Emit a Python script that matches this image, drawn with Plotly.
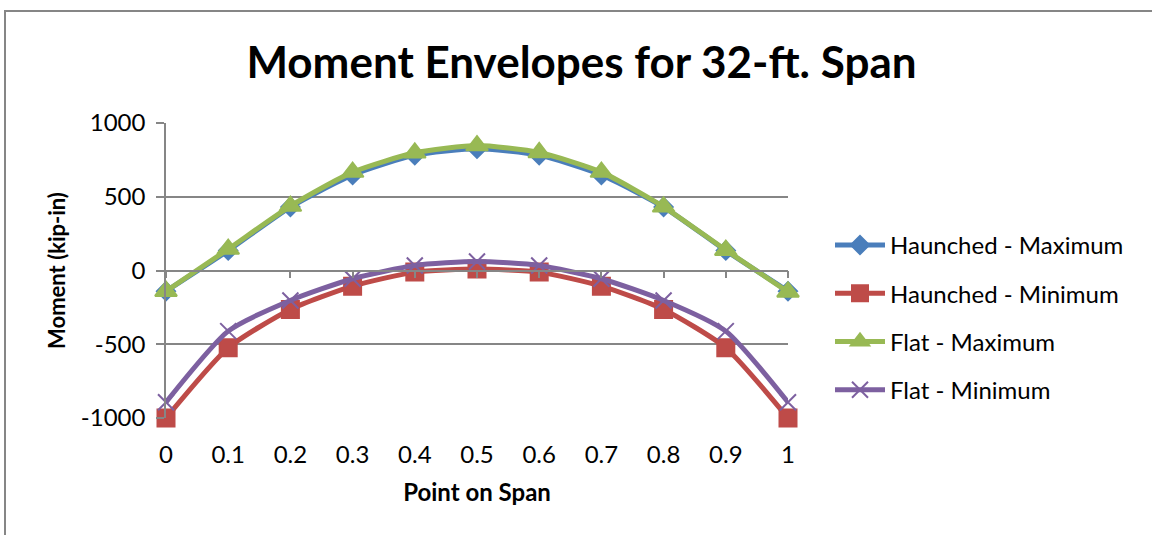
import plotly.graph_objects as go

points = ["0", "0.1", "0.2", "0.3", "0.4", "0.5", "0.6", "0.7", "0.8", "0.9", "1"]
haunched_max = [-140, 135, 430, 648, 782, 826, 782, 648, 430, 135, -140]
haunched_min = [-1000, -524, -264, -106, -11, 10, -11, -106, -264, -524, -1000]
flat_max = [-140, 145, 437, 667, 798, 847, 800, 667, 432, 138, -145]
flat_min = [-893, -411, -203, -56, 34, 61, 34, -56, -203, -411, -893]
y_ticks = [-1000, -500, 0, 500, 1000]
y_tick_labels = ["-1000", "-500", "0", "500", "1000"]

W, H = 1152, 535
L, R, T, B = 166, 788, 123, 418

FONT = "Lato"

fig = go.Figure()

series = [
    ("Haunched - Maximum", haunched_max, "#4A7EBB", "diamond", 14),
    ("Haunched - Minimum", haunched_min, "#BE4B48", "square", 17),
    ("Flat - Maximum", flat_max, "#98B954", "triangle-up", 19),
    ("Flat - Minimum", flat_min, "#7D60A0", "x-thin-open", 16),
]
for i, (name, vals, color, sym, size) in enumerate(series):
    fig.add_trace(go.Scatter(
        x=points, y=vals, name=name, mode="lines+markers", legendgroup=f"g{i}",
        line=dict(color=color, width=5, shape="spline", smoothing=0.6),
        marker=dict(symbol=sym, size=size, color=color,
                    line=dict(color=color, width=2)),
        cliponaxis=False,
    ))

fig.update_layout(
    width=W, height=H,
    margin=dict(l=L, r=W - R, t=T, b=H - B),
    paper_bgcolor="white", plot_bgcolor="white",
    font=dict(family=FONT, color="black"),
    title=dict(text="<b>Moment Envelopes for 32-ft. Span</b>",
               font=dict(size=44, family=FONT, color="black"),
               x=(243 + 920) / 2 / W, xanchor="center", y=1 - 63 / H, yanchor="middle"),
    showlegend=True,
    legend=dict(x=(830 - L) / (R - L), xanchor="left", y=1 - (223 - T) / (B - T), yanchor="top",
                font=dict(size=24, family=FONT), itemwidth=50, tracegroupgap=14,
                bgcolor="rgba(0,0,0,0)", traceorder="grouped"),
    xaxis=dict(type="category", range=[0, len(points) - 1], showgrid=False,
               showline=False, zeroline=False, ticks="", tickfont=dict(size=24),
               ticklabelstandoff=20,
               title=dict(text="<b>Point on Span</b>", font=dict(size=24), standoff=17)),
    xaxis2=dict(type="category", range=[0, len(points) - 1], overlaying="x",
                anchor="free", position=0.5, side="bottom", showline=True,
                linecolor="#868686", linewidth=1.5, ticks="outside", ticklen=7,
                tickcolor="#868686", tickwidth=1.5, showticklabels=False,
                showgrid=False, zeroline=False, tickmode="array",
                tickvals=list(range(len(points)))),
    yaxis=dict(range=[-1000, 1000], tickmode="array", tickvals=y_ticks, ticktext=y_tick_labels,
               showgrid=True, gridcolor="#868686", gridwidth=1.5,
               zeroline=False, showline=True, linecolor="#868686", linewidth=1.5,
               ticks="outside", ticklen=8, tickcolor="#868686", tickwidth=1.5,
               tickfont=dict(size=24), ticklabelstandoff=6,
               title=dict(text="<b>Moment (kip-in)</b>", font=dict(size=22), standoff=9)),
)

# dummy trace to activate xaxis2
fig.add_trace(go.Scatter(x=points, y=[None] * len(points), xaxis="x2",
                         showlegend=False, hoverinfo="skip"))

# chart border
fig.add_shape(type="rect", xref="paper", yref="paper",
              x0=(5 - L) / (R - L), x1=(W + 10 - L) / (R - L),
              y0=(B - (H + 10)) / (B - T), y1=(B - 11) / (B - T),
              line=dict(color="#868686", width=2), layer="below")

fig.write_html("out.html", config={"displayModeBar": False},
               post_script="document.body.style.margin='0';document.body.style.overflow='hidden';")
